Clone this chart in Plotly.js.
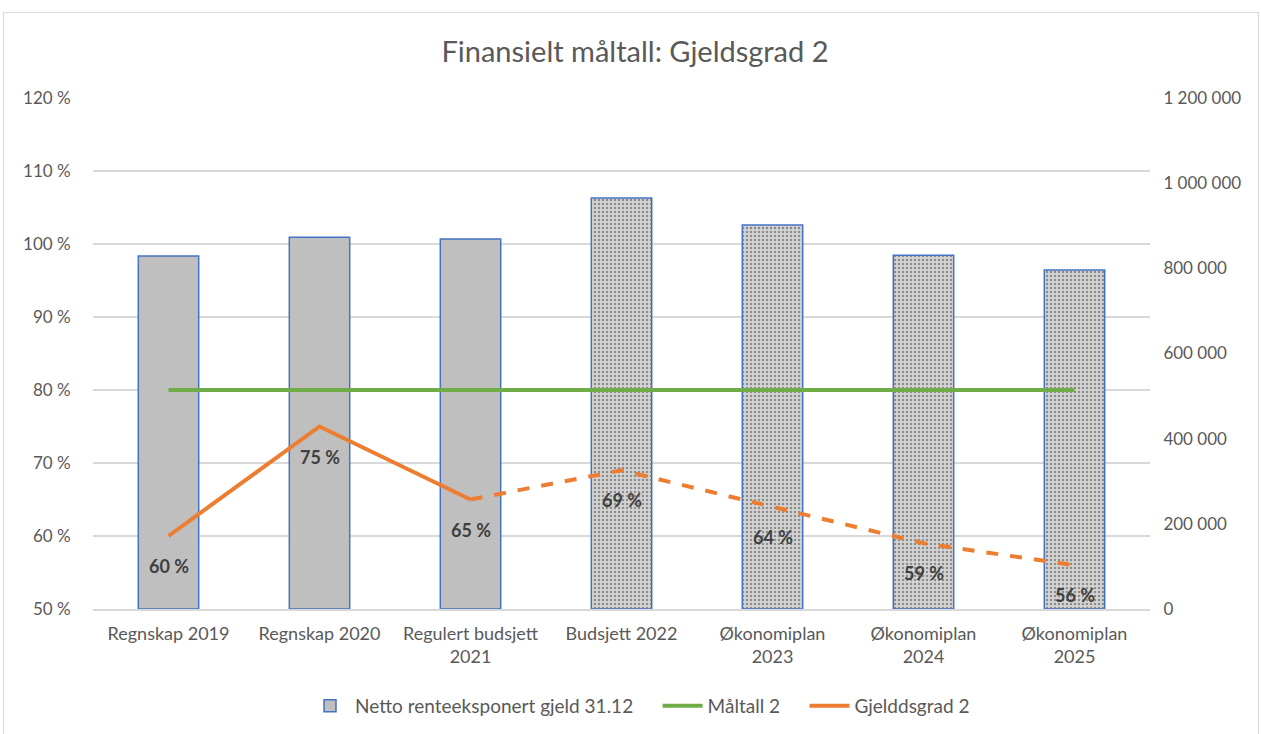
<!DOCTYPE html>
<html>
<head>
<meta charset="utf-8">
<script src="https://cdn.plot.ly/plotly-3.0.1.min.js"></script>
<style>
html,body{margin:0;padding:0;background:#fff;}
#chart{position:absolute;left:0;top:0;width:1261px;height:734px;}
#frame{position:absolute;left:3px;top:12px;width:1254px;height:730px;border:1px solid #d9d9d9;pointer-events:none;}
</style>
</head>
<body>
<div id="chart"></div>
<div id="frame"></div>
<script>
const categories = ["Regnskap 2019","Regnskap 2020","Regulert budsjett<br>2021","Budsjett 2022","Økonomiplan<br>2023","Økonomiplan<br>2024","Økonomiplan<br>2025"];
const gjeld = [829000, 873000, 869000, 965000, 902000, 831000, 796000];
const maltall = [80, 80, 80, 80, 80, 80, 80];
const gjeldsgrad = [60, 75, 65, 69, 64, 59, 56];
const patterned = [false, false, false, true, true, true, true];
const actualCount = 3;
const seriesNames = ["Netto renteeksponert gjeld 31.12", "Måltall 2", "Gjelddsgrad 2"];

const FONT = "Lato, 'Open Sans', sans-serif";
const GREY = "#595959";
const PAD = "\u00a0\u00a0\u00a0\u00a0";

const barTrace = {
  type: "bar", x: categories, y: gjeld, yaxis: "y",
  name: seriesNames[0] + PAD,
  marker: {
    color: patterned.map(p => p ? "#d4d4d4" : "#bfbfbf"),
    line: {color: "#4472c4", width: 1.5},
    pattern: {
      shape: patterned.map(p => p ? "." : ""),
      fillmode: "overlay", fgcolor: "#ffffff", size: 4, solidity: 0.3
    }
  },
  hoverinfo: "skip"
};
const greenTrace = {
  type: "scatter", mode: "lines", x: categories, y: maltall, yaxis: "y2", name: seriesNames[1] + PAD,
  line: {color: "#70ad47", width: 4}
};
const solidTrace = {
  type: "scatter", mode: "lines", x: categories.slice(0, actualCount), y: gjeldsgrad.slice(0, actualCount),
  yaxis: "y2", name: seriesNames[2], legendgroup: "g",
  line: {color: "#ed7d31", width: 4}
};
const dashTrace = {
  type: "scatter", mode: "lines", x: categories.slice(actualCount - 1), y: gjeldsgrad.slice(actualCount - 1),
  yaxis: "y2", name: seriesNames[2], legendgroup: "g", showlegend: false,
  line: {color: "#ed7d31", width: 4, dash: "dash"}
};

const annotations = categories.map((c, i) => ({
  x: c, y: gjeldsgrad[i], xref: "x", yref: "y2",
  text: gjeldsgrad[i] + " %", showarrow: false, yshift: -30,
  font: {family: FONT, size: 18, color: "#404040", weight: "bold"}
}));

const layout = {
  width: 1261, height: 734,
  margin: {l: 93, r: 111, t: 98, b: 125},
  paper_bgcolor: "rgba(0,0,0,0)", plot_bgcolor: "#fff",
  separators: ", ",
  title: {text: "Finansielt måltall: Gjeldsgrad 2", x: 635/1261, xref: "container", xanchor: "center",
          y: 0.929, yref: "container", yanchor: "middle",
          font: {family: FONT, size: 29, color: GREY}},
  font: {family: FONT, size: 18, color: GREY},
  bargap: 0.6,
  xaxis: {
    type: "category", showgrid: false, showline: true, linecolor: "#d9d9d9", linewidth: 2,
    ticks: "", ticklabelstandoff: 7, tickfont: {size: 18, color: GREY}, fixedrange: true
  },
  yaxis: {
    side: "right", range: [0, 1200000], dtick: 200000, tickformat: ",d",
    showgrid: false, zeroline: false,
    ticks: "outside", ticklen: 9, tickcolor: "rgba(0,0,0,0)",
    tickfont: {size: 17, color: GREY}, fixedrange: true
  },
  yaxis2: {
    overlaying: "y", side: "left", range: [50, 120], dtick: 10, tick0: 50, ticksuffix: " %",
    showgrid: true, gridcolor: "#d9d9d9", gridwidth: 1.5, zeroline: false,
    ticks: "outside", ticklen: 18, tickcolor: "rgba(0,0,0,0)",
    tickfont: {size: 17, color: GREY}, fixedrange: true
  },
  legend: {orientation: "h", x: 640/1261, xanchor: "center", xref: "container", y: 1 - 706/734, yref: "container", yanchor: "middle",
           font: {size: 19, color: GREY}, traceorder: "normal", itemwidth: 40},
  annotations: annotations,
  showlegend: true
};

Plotly.newPlot("chart", [barTrace, greenTrace, solidTrace, dashTrace], layout, {displayModeBar: false, staticPlot: true});
</script>
</body>
</html>
